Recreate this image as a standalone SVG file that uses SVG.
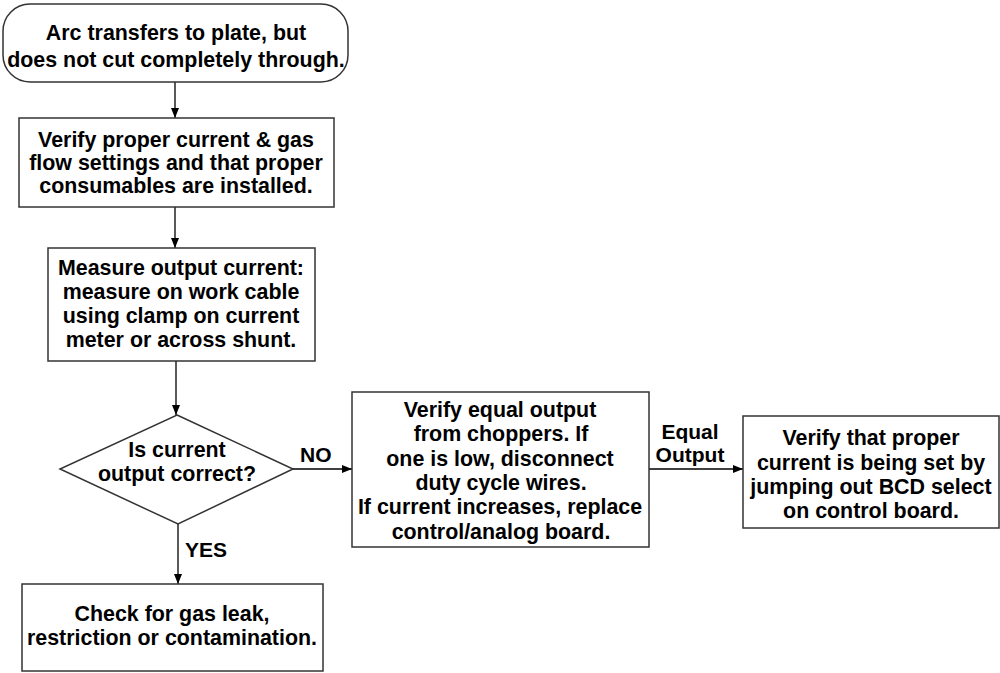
<svg xmlns="http://www.w3.org/2000/svg" width="1000" height="673" viewBox="0 0 1000 673">
<defs>
<style>
.box{fill:#fff;stroke:#333;stroke-width:1.5}
.t{font-family:"Liberation Sans",Arial,sans-serif;font-weight:bold;font-size:21.4px;fill:#000;text-anchor:middle}
.lbl{font-family:"Liberation Sans",Arial,sans-serif;font-weight:bold;font-size:21px;fill:#000}
.c{fill:none;stroke:#000;stroke-width:1.3}
</style>
<marker id="ah" markerWidth="10" markerHeight="8" refX="10" refY="4" orient="auto" markerUnits="userSpaceOnUse">
<path d="M0,0 L10,4 L0,8 Z" fill="#000"/>
</marker>
</defs>
<rect width="1000" height="673" fill="#fff"/>
<g id="connectors">
<line class="c" x1="175" y1="82" x2="175" y2="118" marker-end="url(#ah)"/>
<line class="c" x1="175" y1="207" x2="175" y2="248" marker-end="url(#ah)"/>
<line class="c" x1="176" y1="361" x2="176" y2="415" marker-end="url(#ah)"/>
<line class="c" x1="178" y1="524" x2="178" y2="584" marker-end="url(#ah)"/>
<line class="c" x1="293" y1="469" x2="352" y2="469" marker-end="url(#ah)"/>
<line class="c" x1="649" y1="469" x2="743" y2="469" marker-end="url(#ah)"/>
<text class="lbl" x="300" y="462">NO</text>
<text class="lbl" x="185" y="557">YES</text>
<text class="lbl" x="690" y="439" text-anchor="middle">Equal</text>
<text class="lbl" x="690" y="462" text-anchor="middle">Output</text>
</g>
<g id="start">
<rect class="box" x="3" y="4" width="345" height="78" rx="27" ry="27"/>
<text class="t" x="176" y="40">Arc transfers to plate, but</text>
<text class="t" x="176" y="67">does not cut completely through.</text>
</g>
<g id="verify-settings">
<rect class="box" x="19" y="118" width="315" height="89"/>
<text class="t" x="176" y="147">Verify proper current &amp; gas</text>
<text class="t" x="176" y="170">flow settings and that proper</text>
<text class="t" x="176" y="193">consumables are installed.</text>
</g>
<g id="measure">
<rect class="box" x="48" y="248" width="267" height="113"/>
<text class="t" x="181" y="275">Measure output current:</text>
<text class="t" x="181" y="299">measure on work cable</text>
<text class="t" x="181" y="323">using clamp on current</text>
<text class="t" x="181" y="347">meter or across shunt.</text>
</g>
<g id="decision">
<polygon class="box" points="177,415 293,469 178,524 60,469"/>
<text class="t" x="177" y="457">Is current</text>
<text class="t" x="177" y="481">output correct?</text>
</g>
<g id="check-gas">
<rect class="box" x="22" y="584" width="301" height="87"/>
<text class="t" x="172" y="621">Check for gas leak,</text>
<text class="t" x="172" y="645">restriction or contamination.</text>
</g>
<g id="verify-choppers">
<rect class="box" x="352" y="392" width="297" height="155"/>
<text class="t" x="500" y="417">Verify equal output</text>
<text class="t" x="501" y="441">from choppers. If</text>
<text class="t" x="500" y="466">one is low, disconnect</text>
<text class="t" x="501" y="490">duty cycle wires.</text>
<text class="t" x="500" y="514">If current increases, replace</text>
<text class="t" x="501" y="539">control/analog board.</text>
</g>
<g id="verify-bcd">
<rect class="box" x="743" y="416" width="256" height="112"/>
<text class="t" x="871" y="445">Verify that proper</text>
<text class="t" x="871" y="470">current is being set by</text>
<text class="t" x="871" y="494">jumping out BCD select</text>
<text class="t" x="871" y="518">on control board.</text>
</g>
</svg>
